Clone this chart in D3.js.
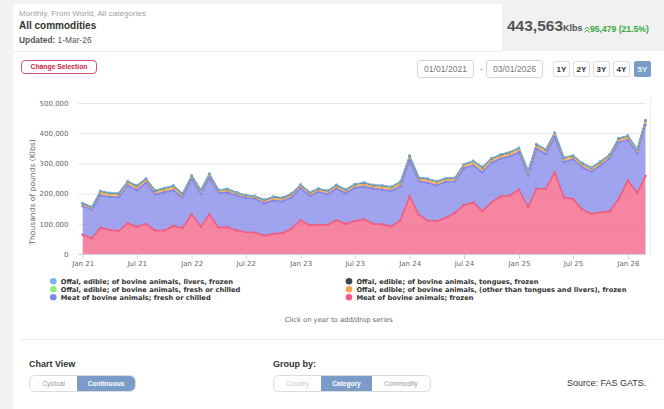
<!DOCTYPE html>
<html lang="en">
<head>
<meta charset="utf-8" />
<title>All commodities</title>
<script src="https://cdnjs.cloudflare.com/ajax/libs/d3/7.8.5/d3.min.js"></script>
<style>
  body { margin: 0; background: #f2f2f2; }
  #page { position: relative; width: 664px; height: 409px; overflow: hidden; font-family: "Liberation Sans", Arial, sans-serif; }
  .abs { position: absolute; }
  #card { left: 13px; top: 4px; width: 651px; height: 405px; background: #fff; }
  .sub { left: 19px; top: 9px; font-size: 8.1px; color: #a0a0a0; }
  .title { left: 19px; top: 20px; font-size: 10px; font-weight: bold; color: #333; }
  .upd { left: 19px; top: 35px; font-size: 8.4px; color: #555; }
  .upd b { color: #555; }
  #hsep { left: 13px; top: 51px; width: 489px; height: 1px; background: #eee; }
  #stat { left: 502px; top: 3px; width: 162px; height: 48px; background: #f1f1f1; }
  .big { left: 507px; top: 17px; font-size: 15.5px; font-weight: bold; color: #555; white-space: nowrap; }
  .big small { font-size: 9px; }
  .chg { left: 584px; top: 23.5px; font-size: 8.6px; font-weight: bold; color: #3aa845; white-space: nowrap; }
  .btnsel { left: 21px; top: 60px; width: 74px; height: 12px; border: 1px solid #d9566e; border-radius: 4px;
            color: #c8243f; font-size: 6.8px; font-weight: bold; text-align: center; line-height: 12px; }
  .date { top: 60px; width: 57px; height: 18px; border: 1px solid #d6d6d6; border-radius: 3px; box-sizing: border-box;
          font-size: 8.6px; color: #777; text-align: center; line-height: 17px; }
  .dash { left: 480px; top: 64px; font-size: 8px; color: #777; }
  .rng { top: 61px; width: 17px; height: 16px; border: 1px solid #ddd; border-radius: 2px; box-sizing: border-box;
         font-size: 8px; font-weight: bold; color: #333; text-align: center; line-height: 15px; }
  .rng.on { background: #7b9cc9; border-color: #7b9cc9; color: #e8eef7; }
  #bsep { left: 20px; top: 339px; width: 644px; height: 1px; background: #eee; }
  .lbl { font-size: 9px; font-weight: bold; color: #333; }
  .tog { top: 375px; height: 17px; border: 1px solid #dcdcdc; border-radius: 6px; box-sizing: border-box; overflow: hidden; display: flex; background: #fff; }
  .tog div { font-size: 6.6px; color: #999; text-align: center; line-height: 15px; }
  .tog div.on { background: #7b9cc9; color: #fff; font-weight: bold; }
  .tog div.off { color: #c8c8c8; }
  .src { left: 567px; top: 378px; font-size: 9px; color: #333; }
  svg text { font-family: "DejaVu Sans", sans-serif; }
</style>
</head>
<body>
<div id="page">
  <div id="card" class="abs"></div>
  <div class="abs sub">Monthly, From World, All categories</div>
  <div class="abs title">All commodities</div>
  <div class="abs upd"><b>Updated:</b> 1-Mar-26</div>
  <div id="hsep" class="abs"></div>
  <div id="stat" class="abs"></div>
  <div class="abs big">443,563<small>Klbs</small></div>
  <div class="abs chg"><svg width="6" height="7" style="vertical-align:-1px"><polyline points="0.5,3.5 3,1 5.5,3.5" fill="none" stroke="#3aa845" stroke-width="1"/><polyline points="0.5,6.5 3,4 5.5,6.5" fill="none" stroke="#3aa845" stroke-width="1"/></svg>95,479 (21.5%)</div>
  <div class="abs btnsel">Change Selection</div>
  <div class="abs date" style="left:417px">01/01/2021</div>
  <div class="abs dash">-</div>
  <div class="abs date" style="left:486px">03/01/2026</div>
  <div class="abs rng" style="left:553px">1Y</div>
  <div class="abs rng" style="left:573px">2Y</div>
  <div class="abs rng" style="left:593px">3Y</div>
  <div class="abs rng" style="left:613px">4Y</div>
  <div class="abs rng on" style="left:634px">5Y</div>
  <div id="chart" class="abs" style="left:0;top:0"></div>
  <div id="bsep" class="abs"></div>
  <div class="abs lbl" style="left:29px;top:359px">Chart View</div>
  <div class="abs tog" style="left:29px;width:107px">
    <div style="width:48px">Cyclical</div><div class="on" style="width:59px">Continuous</div>
  </div>
  <div class="abs lbl" style="left:273px;top:359px">Group by:</div>
  <div class="abs tog" style="left:273px;width:158px">
    <div class="off" style="width:47px">Country</div><div class="on" style="width:51px">Category</div><div style="width:58px">Commodity</div>
  </div>
  <div class="abs src">Source: FAS GATS.</div>
</div>

<script>
  // Monthly values in Klbs, Jan 2021 .. Mar 2026
  const firstMonth = new Date(2021, 0, 1);
  const lastMonth = new Date(2026, 2, 1);

  const meatFrozen = [64000, 52000, 87000, 80000, 76000, 102000, 90000, 99000, 78000, 78000, 93000, 86000,
    131000, 90000, 132000, 88000, 88000, 78000, 72000, 71000, 61000, 67000, 69000, 84000,
    112000, 95000, 97000, 97000, 112000, 100000, 109000, 115000, 100000, 98000, 91000, 112000,
    191000, 130000, 111000, 109000, 120000, 136000, 162000, 171000, 142000, 171000, 191000, 193000,
    213000, 156000, 216000, 216000, 270000, 187000, 182000, 147000, 133000, 138000, 141000, 182000,
    244000, 202000, 258000];
  const meatFresh = [94000, 95000, 107000, 109000, 112000, 125000, 121000, 137000, 119000, 126000, 118000, 101000,
    116000, 110000, 120000, 114000, 116000, 116000, 114000, 112000, 107000, 110000, 105000, 104000,
    106000, 97000, 109000, 101000, 104000, 101000, 110000, 108000, 116000, 115000, 118000, 112000,
    118000, 111000, 125000, 118000, 119000, 105000, 122000, 122000, 129000, 131000, 125000, 130000,
    124000, 104000, 133000, 115000, 117000, 117000, 132000, 140000, 140000, 155000, 176000, 187000,
    134000, 131000, 170000];
  const offalOther = [6000, 5200, 8200, 7700, 7600, 7800, 8800, 7700, 7600, 8200, 8800, 7100,
    7200, 7100, 7700, 6000, 6600, 5600, 5200, 5100, 6600, 7100, 7000, 6600,
    6600, 7100, 6100, 6600, 7100, 7200, 7100, 7700, 7100, 8200, 7700, 8800,
    9300, 7100, 7700, 8200, 7100, 6600, 7700, 8800, 9900, 8200, 7700, 8200,
    8200, 8800, 8300, 8800, 8200, 8800, 7100, 8200, 7700, 7600, 7100, 8200,
    7700, 8200, 8600];
  const offalFresh = [3600, 3100, 5000, 4600, 4500, 4700, 5300, 4600, 4600, 5000, 5300, 4300,
    4300, 4200, 4600, 3600, 4000, 3300, 3100, 3000, 4000, 4300, 4300, 4000,
    4000, 4300, 3600, 4000, 4300, 4300, 4400, 4600, 4300, 5000, 4600, 5300,
    5600, 4300, 4600, 5000, 4300, 4000, 4600, 5300, 5900, 5000, 4600, 5000,
    5000, 5300, 5000, 5300, 5000, 5300, 4300, 5000, 4600, 4600, 4300, 5000,
    4600, 5000, 5200];
  const tongues = [600, 500, 700, 700, 600, 700, 800, 700, 600, 700, 800, 600,
    700, 600, 700, 500, 600, 500, 500, 500, 600, 600, 700, 600,
    600, 700, 500, 600, 600, 700, 600, 700, 600, 700, 700, 800,
    800, 600, 700, 700, 600, 600, 700, 800, 800, 700, 700, 700,
    700, 800, 700, 800, 700, 800, 600, 700, 700, 700, 600, 700,
    700, 700, 763];
  const livers = [800, 700, 1000, 900, 900, 1000, 1100, 900, 900, 1000, 1100, 900,
    900, 900, 1000, 800, 800, 700, 700, 700, 800, 900, 900, 800,
    800, 900, 800, 800, 900, 900, 900, 1000, 900, 1000, 1000, 1100,
    1200, 900, 1000, 1000, 900, 800, 1000, 1100, 1200, 1000, 1000, 1000,
    1000, 1100, 1000, 1100, 1000, 1100, 900, 1000, 1000, 1000, 900, 1000,
    1000, 1000, 1000];

  const yTicks = [0, 100000, 200000, 300000, 400000, 500000];

  // Legend order (two columns, row by row)
  const legendItems = [
    { key: 'livers', name: 'Offal, edible; of bovine animals, livers, frozen', color: '#7cb5ec' },
    { key: 'tongues', name: 'Offal, edible; of bovine animals, tongues, frozen', color: '#434348' },
    { key: 'offalFresh', name: 'Offal, edible; of bovine animals, fresh or chilled', color: '#90ed7d' },
    { key: 'offalOther', name: 'Offal, edible; of bovine animals, (other than tongues and livers), frozen', color: '#f7a35c' },
    { key: 'meatFresh', name: 'Meat of bovine animals; fresh or chilled', color: '#8085e9' },
    { key: 'meatFrozen', name: 'Meat of bovine animals; frozen', color: '#f15c80' }
  ];

  const months = d3.timeMonth.range(firstMonth, d3.timeMonth.offset(lastMonth, 1));
  const seriesByKey = { meatFrozen, meatFresh, offalOther, offalFresh, tongues, livers };
  const rows = months.map((m, i) => {
    const r = { date: m };
    for (const k in seriesByKey) r[k] = seriesByKey[k][i];
    return r;
  });

  // bottom to top
  const stackKeys = ['meatFrozen', 'meatFresh', 'offalOther', 'offalFresh', 'tongues', 'livers'];
  const colorOf = {};
  legendItems.forEach(d => { colorOf[d.key] = d.color; });
  const layers = d3.stack().keys(stackKeys)(rows);

  const plotLeft = 78, plotRight = 646, plotTop = 103, plotBottom = 254;

  const svg = d3.select('#chart').append('svg')
    .attr('width', 664)
    .attr('height', 335);

  const x = d3.scaleTime().domain([firstMonth, lastMonth]).range([82.7, 645.5]);
  const y = d3.scaleLinear().domain([0, 500000]).range([plotBottom, plotTop]);

  // gridlines
  svg.append('g').selectAll('line')
    .data(yTicks.slice(1))
    .join('line')
      .attr('x1', plotLeft).attr('x2', plotRight)
      .attr('y1', d => y(d) + 0.5).attr('y2', d => y(d) + 0.5)
      .attr('stroke', '#e9e9e9');

  svg.append('line')
    .attr('x1', 650.5).attr('x2', 650.5)
    .attr('y1', 98).attr('y2', 256)
    .attr('stroke', '#ededed');

  // y axis labels
  const yAxis = svg.append('g')
    .attr('transform', `translate(${plotLeft},0)`)
    .call(d3.axisLeft(y).tickValues(yTicks).tickFormat(d3.format(',')).tickSize(0).tickPadding(9.5));
  yAxis.select('.domain').remove();
  yAxis.selectAll('text').attr('fill', '#666').attr('font-size', 7).attr('font-family', '"DejaVu Sans", sans-serif');

  svg.append('text')
    .attr('transform', 'translate(35,192) rotate(-90)')
    .attr('text-anchor', 'middle')
    .attr('font-size', 7.6)
    .attr('fill', '#666')
    .text('Thousands of pounds (Klbs)');

  // areas
  const area = d3.area()
    .x(d => x(d.data.date))
    .y0(d => y(d[0]))
    .y1(d => y(d[1]));

  const line = d3.line()
    .x(d => x(d.data.date))
    .y(d => y(d[1]));

  const layerG = svg.append('g');
  layerG.selectAll('path.area')
    .data(layers)
    .join('path')
      .attr('class', 'area')
      .attr('d', area)
      .attr('fill', d => colorOf[d.key])
      .attr('fill-opacity', 0.75);

  layerG.selectAll('path.line')
    .data(layers)
    .join('path')
      .attr('class', 'line')
      .attr('d', line)
      .attr('fill', 'none')
      .attr('stroke', d => colorOf[d.key])
      .attr('stroke-width', d => d.key === 'meatFrozen' || d.key === 'meatFresh' ? 1.6 : 1.1);

  layerG.selectAll('g.marks')
    .data(layers)
    .join('g')
      .attr('fill', d => colorOf[d.key])
    .selectAll('circle')
    .data(d => d)
    .join('circle')
      .attr('cx', d => x(d.data.date))
      .attr('cy', d => y(d[1]))
      .attr('r', 1.3);

  // x axis
  svg.append('line')
    .attr('x1', plotLeft).attr('x2', plotRight)
    .attr('y1', plotBottom + 0.5).attr('y2', plotBottom + 0.5)
    .attr('stroke', '#ccd6eb');

  const xTicks = d3.timeMonth.every(6).range(firstMonth, lastMonth);
  const xAxis = svg.append('g')
    .attr('transform', `translate(0,${plotBottom})`)
    .call(d3.axisBottom(x).tickValues(xTicks).tickFormat(d3.timeFormat('%b %y')).tickSize(5).tickPadding(2.5));
  xAxis.select('.domain').remove();
  xAxis.selectAll('line').attr('stroke', '#ccd6eb');
  xAxis.selectAll('text').attr('fill', '#666').attr('font-size', 7).attr('font-family', '"DejaVu Sans", sans-serif');

  // legend
  const legend = svg.append('g').selectAll('g')
    .data(legendItems)
    .join('g')
      .attr('transform', (d, i) => `translate(${i % 2 ? 349 : 53.3},${281.3 + Math.floor(i / 2) * 8})`);
  legend.append('circle').attr('r', 3.3).attr('fill', d => d.color);
  legend.append('text')
    .attr('x', 7.4)
    .attr('dy', '0.35em')
    .attr('font-size', 6.7)
    .attr('font-weight', 'bold')
    .attr('fill', '#333')
    .text(d => d.name);

  svg.append('text')
    .attr('x', 338.7)
    .attr('y', 319.3)
    .attr('dy', '0.35em')
    .attr('text-anchor', 'middle')
    .attr('font-size', 6.8)
    .attr('fill', '#666')
    .text('Click on year to add/drop series');
</script>
</body>
</html>
